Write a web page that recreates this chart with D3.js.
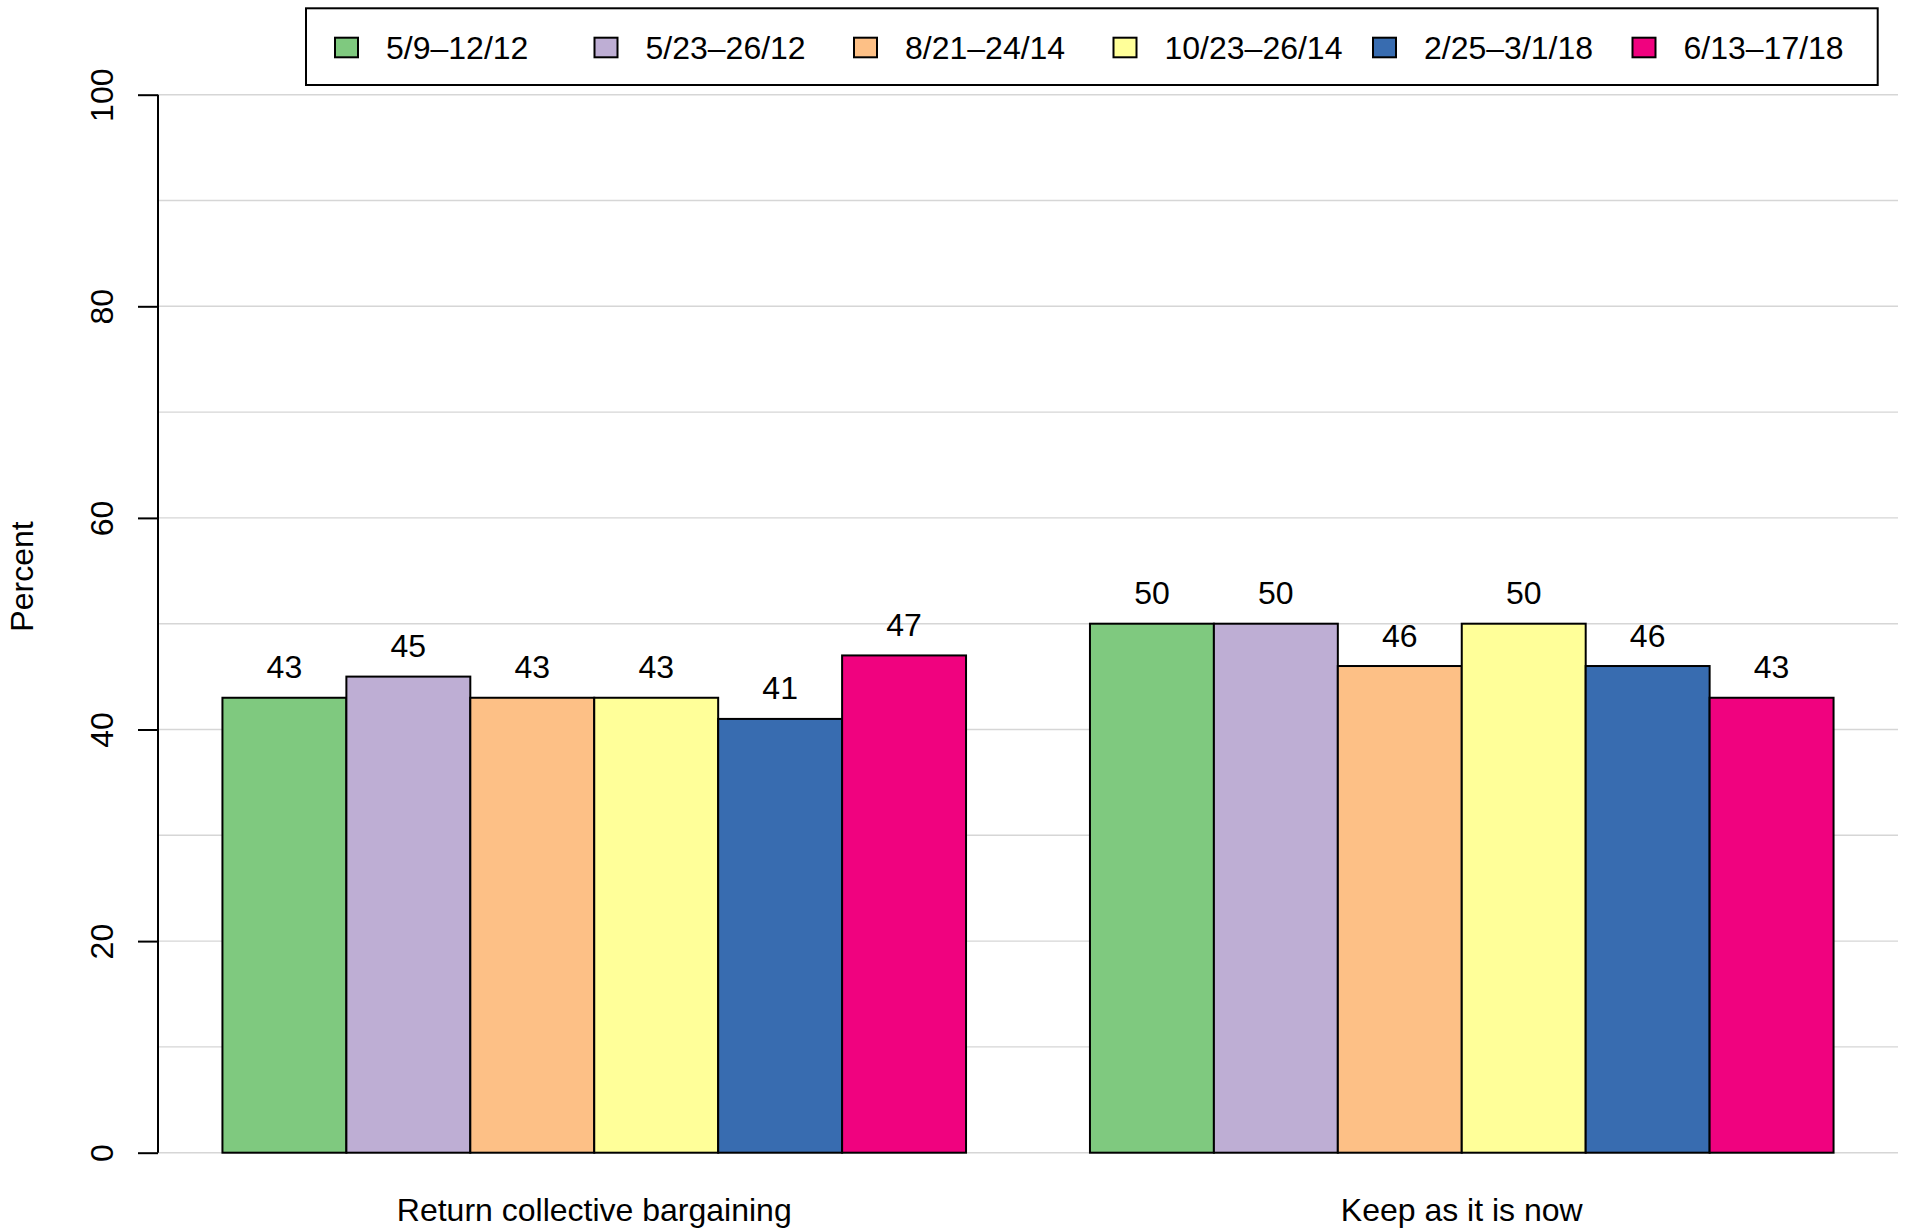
<!DOCTYPE html>
<html>
<head>
<meta charset="utf-8">
<script src="https://cdn.jsdelivr.net/npm/d3@7"></script>
<style>
  html, body { margin: 0; padding: 0; background: #fff; }
  svg { display: block; }
  text { font-family: "Liberation Sans", Arial, Helvetica, sans-serif; fill: #000; }
</style>
</head>
<body>
<svg id="chart" width="1907" height="1230"></svg>
<script>
// Answer options shown along the x axis
const categories = ["Return collective bargaining", "Keep as it is now"];

// Survey field periods (one bar per period in each group)
const periods = ["5/9–12/12", "5/23–26/12", "8/21–24/14", "10/23–26/14", "2/25–3/1/18", "6/13–17/18"];

// Percent choosing each option, per period: [Return collective bargaining, Keep as it is now]
const v_2012_05_09 = [43, 50];
const v_2012_05_23 = [45, 50];
const v_2014_08_21 = [43, 46];
const v_2014_10_23 = [43, 50];
const v_2018_02_25 = [41, 46];
const v_2018_06_13 = [47, 43];
const seriesValues = [v_2012_05_09, v_2012_05_23, v_2014_08_21, v_2014_10_23, v_2018_02_25, v_2018_06_13];

const colors = ["#7fc97f", "#beaed4", "#fdc086", "#ffff99", "#386cb0", "#f0027f"];

// Axis ticks
const yTickValues = [0, 20, 40, 60, 80, 100];
const yGridValues = d3.range(0, 101, 10);

const FONT = 32;
const svg = d3.select("#chart");

const nBars = periods.length;
const gapUnits = 1;                         // empty space before each group, in bar widths
const groupSpan = nBars + gapUnits;
const xMin = gapUnits;
const xMax = categories.length * groupSpan; // right edge of last bar
const pad = 0.04 * (xMax - xMin);

// Bar positions measured in bar-width units
const x = d3.scaleLinear().domain([xMin - pad, xMax + pad]).range([158, 1898]);
const y = d3.scaleLinear().domain([0, 100]).range([1152.7, 94.7]);

// Grid
svg.append("g")
  .selectAll("line")
  .data(yGridValues)
  .join("line")
  .attr("x1", x.range()[0]).attr("x2", x.range()[1])
  .attr("y1", d => y(d)).attr("y2", d => y(d))
  .attr("stroke", "#d6d6d6")
  .attr("stroke-width", 1.4);

// Bars
const bars = [];
categories.forEach((cat, ci) => {
  periods.forEach((p, si) => {
    const left = xMin + ci * groupSpan + si;
    bars.push({ cat, ci, si, left, value: seriesValues[si][ci] });
  });
});

svg.append("g")
  .selectAll("rect")
  .data(bars)
  .join("rect")
  .attr("x", d => x(d.left))
  .attr("width", d => x(d.left + 1) - x(d.left))
  .attr("y", d => y(d.value))
  .attr("height", d => y(0) - y(d.value))
  .attr("fill", d => colors[d.si])
  .attr("stroke", "#000")
  .attr("stroke-width", 2);

// Value labels
svg.append("g")
  .selectAll("text")
  .data(bars)
  .join("text")
  .attr("x", d => x(d.left + 0.5))
  .attr("y", d => y(d.value) - 19.5)
  .attr("text-anchor", "middle")
  .attr("font-size", FONT)
  .text(d => d.value);

// Y axis
const yAxis = d3.axisLeft(y)
  .tickValues(yTickValues)
  .tickSize(20)
  .tickPadding(0)
  .tickFormat(d3.format("d"));

const yAxisG = svg.append("g")
  .attr("transform", `translate(${x.range()[0]},0)`)
  .call(yAxis);
yAxisG.select(".domain")
  .attr("d", `M0,${y(0)}V${y(100)}`)
  .attr("stroke", "#000")
  .attr("stroke-width", 2);
yAxisG.selectAll(".tick line").attr("stroke", "#000").attr("stroke-width", 2);
yAxisG.selectAll(".tick text")
  .attr("x", null).attr("dy", null)
  .attr("transform", "translate(-45.3,0) rotate(-90)")
  .attr("text-anchor", "middle")
  .attr("font-family", null)
  .attr("font-size", FONT)
  .attr("fill", "#000");

// Y axis title
svg.append("text")
  .attr("transform", "translate(33,576.5) rotate(-90)")
  .attr("text-anchor", "middle")
  .attr("font-size", FONT)
  .text("Percent");

// Category labels
svg.append("g")
  .selectAll("text")
  .data(categories)
  .join("text")
  .attr("x", (d, i) => x(xMin + i * groupSpan + nBars / 2))
  .attr("y", 1221)
  .attr("text-anchor", "middle")
  .attr("font-size", FONT)
  .text(d => d);

// Legend
const legend = svg.append("g");
legend.append("rect")
  .attr("x", 306).attr("y", 8.3)
  .attr("width", 1877.7 - 306).attr("height", 85 - 8.3)
  .attr("fill", "#fff")
  .attr("stroke", "#000")
  .attr("stroke-width", 2);

const legendX = d3.scaleLinear().domain([0, nBars - 1]).range([335, 1632.5]);
const items = legend.selectAll("g.item")
  .data(periods)
  .join("g")
  .attr("class", "item")
  .attr("transform", (d, i) => `translate(${legendX(i)},0)`);
items.append("rect")
  .attr("x", 0).attr("y", 37.7)
  .attr("width", 23).attr("height", 19.6)
  .attr("fill", (d, i) => colors[i])
  .attr("stroke", "#000")
  .attr("stroke-width", 2);
items.append("text")
  .attr("x", 51)
  .attr("y", 59.3)
  .attr("font-size", FONT)
  .text(d => d);
</script>
</body>
</html>
